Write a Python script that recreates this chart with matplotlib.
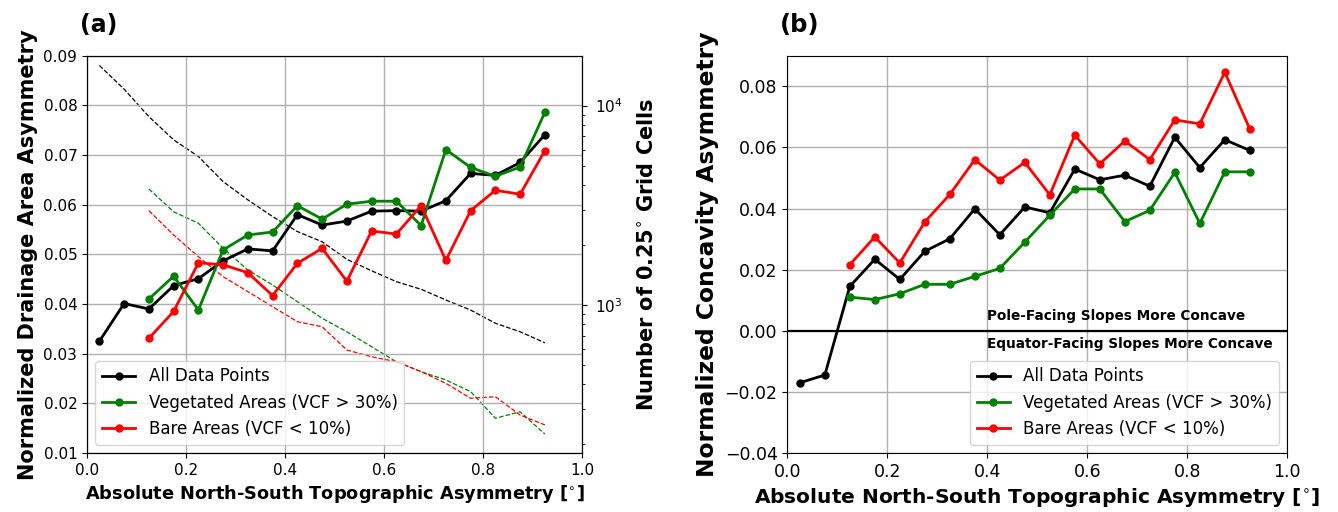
import numpy as np
import matplotlib
matplotlib.use("Agg")
import matplotlib.pyplot as plt

# ---------------- data ----------------
x_all = [0.025, 0.075, 0.125, 0.175, 0.225, 0.275, 0.325, 0.375, 0.425, 0.475,
         0.525, 0.575, 0.625, 0.675, 0.725, 0.775, 0.825, 0.875, 0.925]
x_sub = x_all[2:]

# Panel (a): drainage area asymmetry
da_all = [0.0325, 0.0401, 0.0390, 0.0437, 0.0451, 0.0487, 0.0511, 0.0507, 0.0580, 0.0559,
          0.0567, 0.0587, 0.0588, 0.0587, 0.0608, 0.0663, 0.0659, 0.0685, 0.0741]
da_veg = [0.0410, 0.0456, 0.0388, 0.0509, 0.0539, 0.0545, 0.0598, 0.0571, 0.0601,
          0.0607, 0.0607, 0.0558, 0.0711, 0.0675, 0.0657, 0.0676, 0.0786]
da_bare = [0.0331, 0.0385, 0.0483, 0.0479, 0.0463, 0.0417, 0.0482, 0.0512, 0.0446,
           0.0547, 0.0541, 0.0598, 0.0488, 0.0588, 0.0629, 0.0621, 0.0709]

# Number of grid cells per bin (right log axis)
n_all = [15900, 12090, 8800, 6730, 5550, 4150, 3360, 2770, 2330, 2070,
         1690, 1480, 1305, 1195, 1056, 940, 807, 731, 644]
n_veg = [3810, 2930, 2565, 1920, 1493, 1256, 1035, 855, 731, 615, 517, 461, 419, 366, 269, 290, 224]
n_bare = [2965, 2240, 1742, 1383, 1163, 977, 822, 775, 592, 548, 517, 461, 403, 339, 345, 279, 249]

# Panel (b): concavity asymmetry
cc_all = [-0.0170, -0.0145, 0.0145, 0.0234, 0.0168, 0.0260, 0.0301, 0.0399, 0.0314, 0.0405,
          0.0386, 0.0529, 0.0494, 0.0509, 0.0473, 0.0633, 0.0534, 0.0625, 0.0590]
cc_veg = [0.0110, 0.0102, 0.0121, 0.0152, 0.0152, 0.0178, 0.0204, 0.0290, 0.0378,
          0.0464, 0.0464, 0.0357, 0.0394, 0.0518, 0.0351, 0.0520, 0.0520]
cc_bare = [0.0216, 0.0307, 0.0222, 0.0356, 0.0446, 0.0560, 0.0493, 0.0551, 0.0445,
           0.0640, 0.0546, 0.0621, 0.0560, 0.0690, 0.0677, 0.0846, 0.0660]

labels = ["All Data Points", "Vegetated Areas (VCF > 30%)", "Bare Areas (VCF < 10%)"]
colors = ["black", "green", "red"]
xlabel = r"Absolute North-South Topographic Asymmetry [$^{\circ}$]"

# ---------------- figure ----------------
fig = plt.figure(figsize=(13.38, 5.12), dpi=100)
W, H = 1338, 512
top = 1 - 55.7 / H
bot = 1 - 453 / H
axA = fig.add_axes([87 / W, bot, (582 - 87) / W, top - bot])
axB = fig.add_axes([787.3 / W, bot, (1287.3 - 787.3) / W, top - bot])

lw = 2.0
ms = 5

# ----- panel (a) -----
axN = axA.twinx()
axA.set_zorder(axN.get_zorder() + 1)
axA.patch.set_visible(False)

axN.plot(x_all, n_all, '--', color=colors[0], lw=0.9)
axN.plot(x_sub, n_veg, '--', color=colors[1], lw=0.9)
axN.plot(x_sub, n_bare, '--', color=colors[2], lw=0.9)
axN.set_yscale('log')
axN.set_ylim(180, 17800)
axN.tick_params(labelsize=11, pad=6)
axN.set_ylabel(r"Number of 0.25$^{\circ}$ Grid Cells", fontsize=15, fontweight='bold',
               labelpad=10)

axA.plot(x_all, da_all, '-o', color=colors[0], lw=lw, ms=ms, label=labels[0])
axA.plot(x_sub, da_veg, '-o', color=colors[1], lw=lw, ms=ms, label=labels[1])
axA.plot(x_sub, da_bare, '-o', color=colors[2], lw=lw, ms=ms, label=labels[2])
axA.set_xlim(0, 1)
axA.set_ylim(0.01, 0.09)
axA.set_xticks([0, 0.2, 0.4, 0.6, 0.8, 1.0])
axA.set_yticks(np.arange(0.01, 0.0901, 0.01))
axA.set_yticklabels(["%.2f" % v for v in np.arange(0.01, 0.0901, 0.01)])
axA.grid(True, color='#b0b0b0', lw=1)
axA.tick_params(labelsize=11)
axA.set_xlabel(xlabel, fontsize=12.8, fontweight='bold')
axA.set_ylabel("Normalized Drainage Area Asymmetry", fontsize=15, fontweight='bold')
axA.legend(loc='lower left', fontsize=12, framealpha=0.8)
axA.text(-0.015, 1.047, "(a)", transform=axA.transAxes, fontsize=17,
         fontweight='bold', ha='left', va='bottom')

# ----- panel (b) -----
axB.plot(x_all, cc_all, '-o', color=colors[0], lw=lw, ms=ms, label=labels[0])
axB.plot(x_sub, cc_veg, '-o', color=colors[1], lw=lw, ms=ms, label=labels[1])
axB.plot(x_sub, cc_bare, '-o', color=colors[2], lw=lw, ms=ms, label=labels[2])
axB.axhline(0, color='black', lw=1.6)
axB.set_xlim(0, 1)
axB.set_ylim(-0.04, 0.09)
axB.set_xticks([0, 0.2, 0.4, 0.6, 0.8, 1.0])
axB.set_yticks([-0.04, -0.02, 0.0, 0.02, 0.04, 0.06, 0.08])
axB.grid(True, color='#b0b0b0', lw=1)
axB.tick_params(labelsize=12.5)
axB.set_xlabel(xlabel, fontsize=14.5, fontweight='bold')
axB.set_ylabel("Normalized Concavity Asymmetry", fontsize=16.8, fontweight='bold')
axB.text(0.4, 0.0047, "Pole-Facing Slopes More Concave", fontsize=9.8,
         fontweight='bold', ha='left', va='center')
axB.text(0.4, -0.0043, "Equator-Facing Slopes More Concave", fontsize=9.8,
         fontweight='bold', ha='left', va='center')
axB.legend(loc='lower right', fontsize=12, framealpha=0.8)
axB.text(-0.015, 1.047, "(b)", transform=axB.transAxes, fontsize=17.5,
         fontweight='bold', ha='left', va='bottom')

fig.savefig("out.png", dpi=100)
